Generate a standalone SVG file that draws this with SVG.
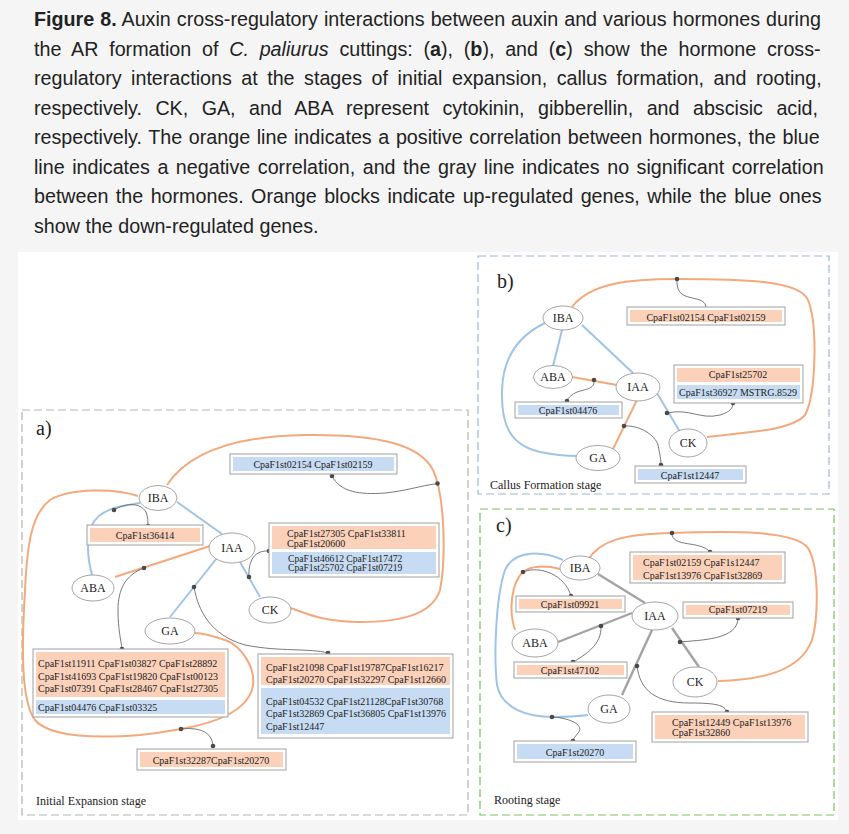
<svg xmlns="http://www.w3.org/2000/svg" width="849" height="834" viewBox="0 0 849 834">
<style>
.cap{font-family:"Liberation Sans",Arial,sans-serif;font-size:19.7px;fill:#222}
.ser{font-family:"Liberation Serif","Times New Roman",serif;fill:#222}
.lab{font-size:12px;text-anchor:middle}
.gene{font-size:10px}
.tight{font-size:9.6px}
.mid{text-anchor:middle}
.node{fill:#fff;stroke:#9a9a9a;stroke-width:0.9}
.box{fill:#fff;stroke:#a0a0a0;stroke-width:1}
.of{fill:#fbd1ba}
.bf{fill:#c7dcf2}
.eo{fill:none;stroke:#f4a97c;stroke-width:2}
.eb{fill:none;stroke:#9fc4e6;stroke-width:2}
.eg{fill:none;stroke:#a3a3a3;stroke-width:2.4}
.lk{fill:none;stroke:#6a6a6a;stroke-width:0.9}
.dot{fill:#4a4a4a}
.stage{font-size:12px}
.pl{font-size:20px}
</style>
<rect width="849" height="834" fill="#f5f5f5"/>
<!-- caption -->
<text class="cap" x="34" y="26" word-spacing="0.55"><tspan font-weight="bold">Figure 8.</tspan> Auxin cross-regulatory interactions between auxin and various hormones during</text>
<text class="cap" x="34" y="55.5" word-spacing="5.3">the AR formation of <tspan font-style="italic">C. paliurus</tspan> cuttings: (<tspan font-weight="bold">a</tspan>), (<tspan font-weight="bold">b</tspan>), and (<tspan font-weight="bold">c</tspan>) show the hormone cross-</text>
<text class="cap" x="34" y="85" word-spacing="4.05">regulatory interactions at the stages of initial expansion, callus formation, and rooting,</text>
<text class="cap" x="34" y="114.5" word-spacing="7.96">respectively. CK, GA, and ABA represent cytokinin, gibberellin, and abscisic acid,</text>
<text class="cap" x="34" y="144" word-spacing="1.16">respectively. The orange line indicates a positive correlation between hormones, the blue</text>
<text class="cap" x="34" y="173.5" word-spacing="2.05">line indicates a negative correlation, and the gray line indicates no significant correlation</text>
<text class="cap" x="34" y="203" word-spacing="1.95">between the hormones. Orange blocks indicate up-regulated genes, while the blue ones</text>
<text class="cap" x="34" y="232.5">show the down-regulated genes.</text>

<!-- figure background -->
<rect x="18" y="252" width="820" height="568" fill="#fff"/>
<!-- panel frames -->
<rect x="22" y="410" width="446" height="405" fill="none" stroke="#b3b3b3" stroke-width="1.2" stroke-dasharray="8,4"/>
<rect x="478" y="256" width="351" height="238" fill="none" stroke="#9cb8db" stroke-width="1.2" stroke-dasharray="8,4"/>
<rect x="480" y="509" width="354" height="306" fill="none" stroke="#7cbf5b" stroke-width="1.2" stroke-dasharray="8,4"/>
<text class="ser pl" x="36" y="435">a)</text>
<text class="ser pl" x="497" y="288">b)</text>
<text class="ser pl" x="496" y="532">c)</text>
<text class="ser stage" x="36" y="805">Initial Expansion stage</text>
<text class="ser stage" x="490" y="489">Callus Formation stage</text>
<text class="ser stage" x="494" y="804">Rooting stage</text>

<!-- connectors -->
<g id="connectors">
  <!-- panel a -->
  <path class="eo" d="M167,485 C190,450 240,436 305,435 C380,434 420,445 433,470 C445,495 446,560 440,590 C432,615 400,622 360,622 C320,622 305,612 290,608"/>
  <path class="eo" d="M138,496 C115,488 70,488 50,500 C30,515 27,550 25,590 C22,640 20,700 35,720 C50,738 100,738 140,735 C160,733 170,731 181,729 C215,723 245,712 252,690 C258,668 240,645 225,640 C210,635 200,633 195,633"/>
  <path class="eb" d="M140,503 C122,506 100,508 92,525 C86,540 88,560 92,575"/>
  <path class="eb" d="M177,502 L222,534"/>
  <path class="eo" d="M115,577 L210,546"/>
  <path class="eb" d="M217,558 L170,617"/>
  <path class="eb" d="M240,562 L260,597"/>
  <path class="lk" d="M332,476 C340,492 360,495 385,493 C405,491 420,486 437.5,483.5"/>
  <path class="lk" d="M114,510 C125,503 140,502 146,512 C148,517 148,522 148,526"/>
  <path class="lk" d="M249,577 C248,560 255,550 269,551"/>
  <path class="lk" d="M144,568 C125,575 118,590 118,610 C118,630 121,640 122,649"/>
  <path class="lk" d="M194,587 C198,610 210,635 245,645 C280,652 310,648 328,653"/>
  <path class="lk" d="M181,729 C200,727 212,732 213,746"/>
  <circle class="dot" cx="332" cy="476" r="2.3"/>
  <circle class="dot" cx="437.5" cy="483.5" r="2.3"/>
  <circle class="dot" cx="114" cy="510" r="2.3"/>
  <circle class="dot" cx="148" cy="526" r="2.3"/>
  <circle class="dot" cx="249" cy="577" r="2.3"/>
  <circle class="dot" cx="269" cy="551" r="2.3"/>
  <circle class="dot" cx="144" cy="568" r="2.3"/>
  <circle class="dot" cx="122" cy="649" r="2.3"/>
  <circle class="dot" cx="194" cy="587" r="2.3"/>
  <circle class="dot" cx="328" cy="653" r="2.3"/>
  <circle class="dot" cx="181" cy="729" r="2.3"/>
  <circle class="dot" cx="213" cy="746" r="2.3"/>
  <!-- panel b -->
  <path class="eo" d="M572,307 C590,283 630,279 677,279 C740,279 800,280 808,300 C818,325 816,395 805,415 C790,432 740,432 707,437"/>
  <path class="eb" d="M545,323 C520,335 503,355 502,390 C501,425 510,445 540,452 C555,455 568,456 577,456"/>
  <path class="eb" d="M562,330 L553,366"/>
  <path class="eb" d="M582,325 L633,373"/>
  <path class="eo" d="M572,377 L617,385"/>
  <path class="eo" d="M637,400 L613,449"/>
  <path class="eb" d="M657,393 L680,432"/>
  <path class="lk" d="M677,279 C676,298 688,296 700,300 C705,302 706,305 706,309"/>
  <path class="lk" d="M667,413 C690,408 700,420 720,415 C730,412 733,408 733,403"/>
  <path class="lk" d="M594,380 C595,392 580,388 572,395 C568,398 567,400 567,401"/>
  <path class="lk" d="M624,426 C640,425 655,435 658,445 C660,455 661,460 661,465"/>
  <circle class="dot" cx="677" cy="279" r="2.3"/>
  <circle class="dot" cx="706" cy="309" r="2.3"/>
  <circle class="dot" cx="667" cy="413" r="2.3"/>
  <circle class="dot" cx="733" cy="403" r="2.3"/>
  <circle class="dot" cx="594" cy="380" r="2.3"/>
  <circle class="dot" cx="567" cy="401" r="2.3"/>
  <circle class="dot" cx="624" cy="426" r="2.3"/>
  <circle class="dot" cx="661" cy="465" r="2.3"/>
  <!-- panel c -->
  <path class="eo" d="M588,560 C600,540 625,534 672,533 C730,531 795,530 808,548 C820,568 818,620 812,640 C800,672 760,680 718,681"/>
  <path class="eo" d="M560,569 C545,565 530,566 523,572 C512,582 508,610 515,630"/>
  <path class="eb" d="M563,560 C545,552 515,548 505,570 C495,600 494,660 497,685 C502,710 530,717 552,717 C570,717 580,716 588,715"/>
  <path class="eg" d="M598,574 L645,603"/>
  <path class="eg" d="M558,642 L632,613"/>
  <path class="eg" d="M652,630 L622,695"/>
  <path class="eg" d="M672,628 L699,667"/>
  <path class="lk" d="M672,533 C672,548 700,540 710,552"/>
  <path class="lk" d="M523,572 C540,565 565,575 571,596"/>
  <path class="lk" d="M680,642 C700,640 738,640 738,618"/>
  <path class="lk" d="M601,626 C602,645 585,655 573,662"/>
  <path class="lk" d="M637,666 C640,690 655,703 690,703 C715,703 725,705 727,712"/>
  <path class="lk" d="M552,717 C570,718 585,725 578,733 C575,737 573,739 573,741"/>
  <circle class="dot" cx="672" cy="533" r="2.3"/>
  <circle class="dot" cx="710" cy="552" r="2.3"/>
  <circle class="dot" cx="523" cy="572" r="2.3"/>
  <circle class="dot" cx="571" cy="596" r="2.3"/>
  <circle class="dot" cx="680" cy="642" r="2.3"/>
  <circle class="dot" cx="738" cy="618" r="2.3"/>
  <circle class="dot" cx="601" cy="626" r="2.3"/>
  <circle class="dot" cx="573" cy="662" r="2.3"/>
  <circle class="dot" cx="637" cy="666" r="2.3"/>
  <circle class="dot" cx="727" cy="712" r="2.3"/>
  <circle class="dot" cx="552" cy="717" r="2.3"/>
  <circle class="dot" cx="573" cy="741" r="2.3"/>
</g>

<!-- panel a nodes -->
<g id="a-IBA"><ellipse class="node" cx="158" cy="498" rx="19" ry="12.5"/><text class="ser lab" x="158" y="502">IBA</text></g>
<g id="a-IAA"><ellipse class="node" cx="232" cy="548" rx="23" ry="15"/><text class="ser lab" x="232" y="552">IAA</text></g>
<g id="a-ABA"><ellipse class="node" cx="93" cy="588" rx="21" ry="13"/><text class="ser lab" x="93" y="592">ABA</text></g>
<g id="a-CK"><ellipse class="node" cx="270" cy="610" rx="21" ry="13"/><text class="ser lab" x="270" y="614">CK</text></g>
<g id="a-GA"><ellipse class="node" cx="170" cy="631" rx="25" ry="13"/><text class="ser lab" x="170" y="635">GA</text></g>

<g id="a-genes1"><rect class="box" x="230" y="454" width="167" height="20"/><rect class="bf" x="233" y="457" width="161" height="14"/><text class="ser gene mid" x="313" y="468">CpaF1st02154 CpaF1st02159</text></g>
<g id="a-genes2"><rect class="box" x="87" y="525" width="116" height="20"/><rect class="of" x="90" y="528" width="110" height="14"/><text class="ser gene mid" x="145" y="539">CpaF1st36414</text></g>
<g id="a-genes3"><rect class="box" x="269" y="523" width="170" height="54"/><rect class="of" x="272" y="526" width="164" height="23"/><rect class="bf" x="272" y="552" width="164" height="22"/>
<text class="ser gene" x="287" y="537">CpaF1st27305 CpaF1st33811</text><text class="ser gene" x="287" y="547">CpaF1st20600</text>
<text class="ser tight" x="288" y="561.5">CpaF1st46612 CpaF1st17472</text><text class="ser tight" x="288" y="571">CpaF1st25702 CpaF1st07219</text></g>
<g id="a-genes4"><rect class="box" x="33" y="649" width="195" height="68"/><rect class="of" x="36" y="652" width="189" height="45"/><rect class="bf" x="36" y="700" width="189" height="14"/>
<text class="ser gene" x="38" y="667">CpaF1st11911 CpaF1st03827 CpaF1st28892</text><text class="ser gene" x="38" y="679.5">CpaF1st41693 CpaF1st19820 CpaF1st00123</text><text class="ser gene" x="38" y="692">CpaF1st07391 CpaF1st28467 CpaF1st27305</text>
<text class="ser gene" x="38" y="711">CpaF1st04476 CpaF1st03325</text></g>
<g id="a-genes5"><rect class="box" x="258" y="654" width="195" height="84"/><rect class="of" x="261" y="657" width="189" height="28"/><rect class="bf" x="261" y="688" width="189" height="46"/>
<text class="ser gene" x="266" y="671">CpaF1st21098 CpaF1st19787CpaF1st16217</text><text class="ser gene" x="266" y="683">CpaF1st20270 CpaF1st32297 CpaF1st12660</text>
<text class="ser gene" x="266" y="705">CpaF1st04532 CpaF1st21128CpaF1st30768</text><text class="ser gene" x="266" y="717">CpaF1st32869 CpaF1st36805 CpaF1st13976</text><text class="ser gene" x="266" y="730">CpaF1st12447</text></g>
<g id="a-genes6"><rect class="box" x="137" y="749" width="149" height="21"/><rect class="of" x="140" y="752" width="143" height="15"/><text class="ser gene mid" x="211" y="763.5">CpaF1st32287CpaF1st20270</text></g>

<!-- panel b nodes -->
<g id="b-IBA"><ellipse class="node" cx="563" cy="318" rx="20" ry="12"/><text class="ser lab" x="563" y="322">IBA</text></g>
<g id="b-ABA"><ellipse class="node" cx="553" cy="377" rx="19.5" ry="11.5"/><text class="ser lab" x="553" y="381">ABA</text></g>
<g id="b-IAA"><ellipse class="node" cx="638" cy="387" rx="22" ry="14"/><text class="ser lab" x="638" y="391">IAA</text></g>
<g id="b-CK"><ellipse class="node" cx="688" cy="443" rx="19" ry="14"/><text class="ser lab" x="688" y="447">CK</text></g>
<g id="b-GA"><ellipse class="node" cx="598" cy="458" rx="22" ry="12.5"/><text class="ser lab" x="598" y="462">GA</text></g>

<g id="b-genes1"><rect class="box" x="627" y="307" width="158" height="18"/><rect class="of" x="630" y="310" width="152" height="12"/><text class="ser gene mid" x="706" y="320.5">CpaF1st02154 CpaF1st02159</text></g>
<g id="b-genes2"><rect class="box" x="674" y="365" width="129" height="38"/><rect class="of" x="677" y="368" width="123" height="14"/><rect class="bf" x="677" y="385" width="123" height="14"/>
<text class="ser gene mid" x="738" y="378">CpaF1st25702</text><text class="ser gene mid" x="738" y="396">CpaF1st36927 MSTRG.8529</text></g>
<g id="b-genes3"><rect class="box" x="515" y="402" width="107" height="16"/><rect class="bf" x="518" y="405" width="101" height="10"/><text class="ser gene mid" x="568" y="414">CpaF1st04476</text></g>
<g id="b-genes4"><rect class="box" x="635" y="466" width="111" height="17"/><rect class="bf" x="638" y="469" width="105" height="11"/><text class="ser gene mid" x="690" y="478.5">CpaF1st12447</text></g>

<!-- panel c nodes -->
<g id="c-IBA"><ellipse class="node" cx="580" cy="568" rx="20" ry="12"/><text class="ser lab" x="580" y="572">IBA</text></g>
<g id="c-IAA"><ellipse class="node" cx="655" cy="616" rx="23" ry="14"/><text class="ser lab" x="655" y="620">IAA</text></g>
<g id="c-ABA"><ellipse class="node" cx="535" cy="643" rx="23" ry="14"/><text class="ser lab" x="535" y="647">ABA</text></g>
<g id="c-CK"><ellipse class="node" cx="695" cy="682" rx="22" ry="15"/><text class="ser lab" x="695" y="686">CK</text></g>
<g id="c-GA"><ellipse class="node" cx="609" cy="709" rx="21" ry="14"/><text class="ser lab" x="609" y="713">GA</text></g>

<g id="c-genes1"><rect class="box" x="630" y="552" width="155" height="31"/><rect class="of" x="633" y="555" width="149" height="25"/>
<text class="ser gene" x="643" y="566">CpaF1st02159 CpaF1s12447</text><text class="ser gene" x="643" y="579">CpaF1st13976 CpaF1st32869</text></g>
<g id="c-genes2"><rect class="box" x="516" y="596" width="109" height="16"/><rect class="of" x="519" y="599" width="103" height="10"/><text class="ser gene mid" x="570" y="607.5">CpaF1st09921</text></g>
<g id="c-genes3"><rect class="box" x="683" y="602" width="110" height="16"/><rect class="of" x="686" y="605" width="104" height="10"/><text class="ser gene mid" x="738" y="613">CpaF1st07219</text></g>
<g id="c-genes4"><rect class="box" x="514" y="662" width="113" height="16"/><rect class="of" x="517" y="665" width="107" height="10"/><text class="ser gene mid" x="570" y="673.5">CpaF1st47102</text></g>
<g id="c-genes5"><rect class="box" x="652" y="712" width="156" height="30"/><rect class="of" x="655" y="715" width="150" height="24"/>
<text class="ser gene" x="672" y="725.5">CpaF1st12449 CpaF1st13976</text><text class="ser gene" x="672" y="735.5">CpaF1st32860</text></g>
<g id="c-genes6"><rect class="box" x="514" y="741" width="122" height="21"/><rect class="bf" x="517" y="744" width="116" height="15"/><text class="ser gene mid" x="575" y="755.5">CpaF1st20270</text></g>
</svg>
